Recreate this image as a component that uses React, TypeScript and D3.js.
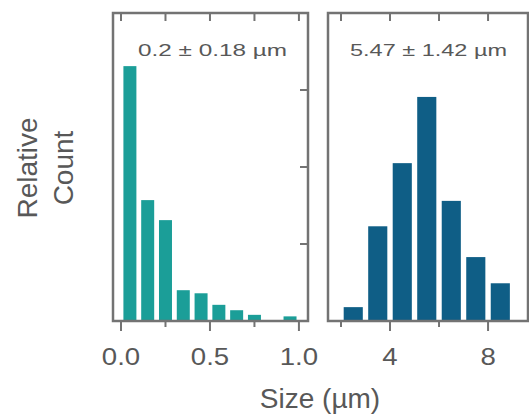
import React from "react";
import * as d3 from "d3";

const smallBins = [0.05, 0.15, 0.25, 0.35, 0.45, 0.55, 0.65, 0.75, 0.85, 0.95];
const smallCounts = [3.31, 1.57, 1.31, 0.4, 0.36, 0.21, 0.14, 0.08, 0, 0.06];
const largeBins = [2.5, 3.5, 4.5, 5.5, 6.5, 7.5, 8.5];
const largeCounts = [0.18, 1.23, 2.05, 2.91, 1.56, 0.83, 0.49];
const smallTickLabels = ["0.0", "0.5", "1.0"];
const smallTickValues = [0, 0.5, 1.0];
const smallMinor = [0.25, 0.75];
const largeTickLabels = ["4", "8"];
const largeTickValues = [4, 8];
const largeMinor = [2, 6];
const yTicks = [1, 2, 3];
const smallTitle = "0.2 ± 0.18 µm";
const largeTitle = "5.47 ± 1.42 µm";
const xTitle = "Size (µm)";
const yTitle = ["Relative", "Count"];

const W = 529;
const H = 420;
const TOP = 13;
const BOTTOM = 321;
const L1 = 113, R1 = 308;
const L2 = 328, R2 = 528;
const FRAME = "#737373";
const TXT = "#585858";
const FONT = "'Liberation Sans', Arial, sans-serif";

export default function App() {
  const y = d3.scaleLinear().domain([0, 4]).range([BOTTOM, TOP]);
  const x1 = d3.scaleLinear().domain([-0.045, 1.051]).range([L1, R1]);
  const x2 = d3.scaleLinear().domain([1.47, 9.63]).range([L2, R2]);
  const w1 = x1(0.073) - x1(0);
  const w2 = x2(0.78) - x2(0);

  const tickLabel = (x: number, label: string, key: string) => (
    <text
      key={key}
      transform={`translate(${x},365) scale(1.2,1)`}
      textAnchor="middle"
      fontSize={23}
      fill={TXT}
      fontFamily={FONT}
    >
      {label}
    </text>
  );

  return (
    <svg width={W} height={H} style={{ position: "absolute", left: 0, top: 0, background: "#fff" }}>
      {smallBins.map((b, i) => (
        <rect
          key={"s" + i}
          x={x1(b) - w1 / 2}
          y={y(smallCounts[i])}
          width={w1}
          height={BOTTOM - y(smallCounts[i])}
          fill="#1b9e98"
        />
      ))}
      {largeBins.map((b, i) => (
        <rect
          key={"l" + i}
          x={x2(b) - w2 / 2}
          y={y(largeCounts[i])}
          width={w2}
          height={BOTTOM - y(largeCounts[i])}
          fill="#0f5e86"
        />
      ))}

      <rect x={L1} y={TOP} width={R1 - L1} height={BOTTOM - TOP} fill="none" stroke={FRAME} strokeWidth={2.5} />
      <rect x={L2} y={TOP} width={R2 - L2} height={BOTTOM - TOP} fill="none" stroke={FRAME} strokeWidth={2.5} />

      {[...smallTickValues, ...smallMinor].map((v, i) => (
        <line key={"st" + i} x1={x1(v)} x2={x1(v)} y1={TOP} y2={TOP + 8} stroke={FRAME} strokeWidth={2} />
      ))}
      {smallTickValues.map((v, i) => (
        <line key={"sb" + i} x1={x1(v)} x2={x1(v)} y1={BOTTOM} y2={BOTTOM + 10} stroke={FRAME} strokeWidth={2} />
      ))}
      {smallMinor.map((v, i) => (
        <line key={"sm" + i} x1={x1(v)} x2={x1(v)} y1={BOTTOM} y2={BOTTOM + 6} stroke={FRAME} strokeWidth={2} />
      ))}
      {yTicks.map((v, i) => (
        <line key={"yr" + i} x1={R1 - 8} x2={R1} y1={y(v)} y2={y(v)} stroke={FRAME} strokeWidth={2} />
      ))}

      {[...largeTickValues, ...largeMinor].map((v, i) => (
        <line key={"lt" + i} x1={x2(v)} x2={x2(v)} y1={TOP} y2={TOP + 8} stroke={FRAME} strokeWidth={2} />
      ))}
      {largeTickValues.map((v, i) => (
        <line key={"lb" + i} x1={x2(v)} x2={x2(v)} y1={BOTTOM} y2={BOTTOM + 10} stroke={FRAME} strokeWidth={2} />
      ))}
      {largeMinor.map((v, i) => (
        <line key={"lm" + i} x1={x2(v)} x2={x2(v)} y1={BOTTOM} y2={BOTTOM + 6} stroke={FRAME} strokeWidth={2} />
      ))}

      {smallTickValues.map((v, i) => tickLabel(x1(v), smallTickLabels[i], "stl" + i))}
      {largeTickValues.map((v, i) => tickLabel(x2(v), largeTickLabels[i], "ltl" + i))}

      <text x={138} y={56} fontSize={16.5} textLength={149} lengthAdjust="spacingAndGlyphs" fill={TXT} fontFamily={FONT}>
        {smallTitle}
      </text>
      <text x={350} y={56} fontSize={16.5} textLength={157} lengthAdjust="spacingAndGlyphs" fill={TXT} fontFamily={FONT}>
        {largeTitle}
      </text>

      <text x={320} y={408} textAnchor="middle" fontSize={28} fill={TXT} fontFamily={FONT}>
        {xTitle}
      </text>
      <text transform="translate(37,168) rotate(-90)" textAnchor="middle" fontSize={28} fill={TXT} fontFamily={FONT}>
        {yTitle[0]}
      </text>
      <text transform="translate(73,168) rotate(-90)" textAnchor="middle" fontSize={28} fill={TXT} fontFamily={FONT}>
        {yTitle[1]}
      </text>
    </svg>
  );
}
